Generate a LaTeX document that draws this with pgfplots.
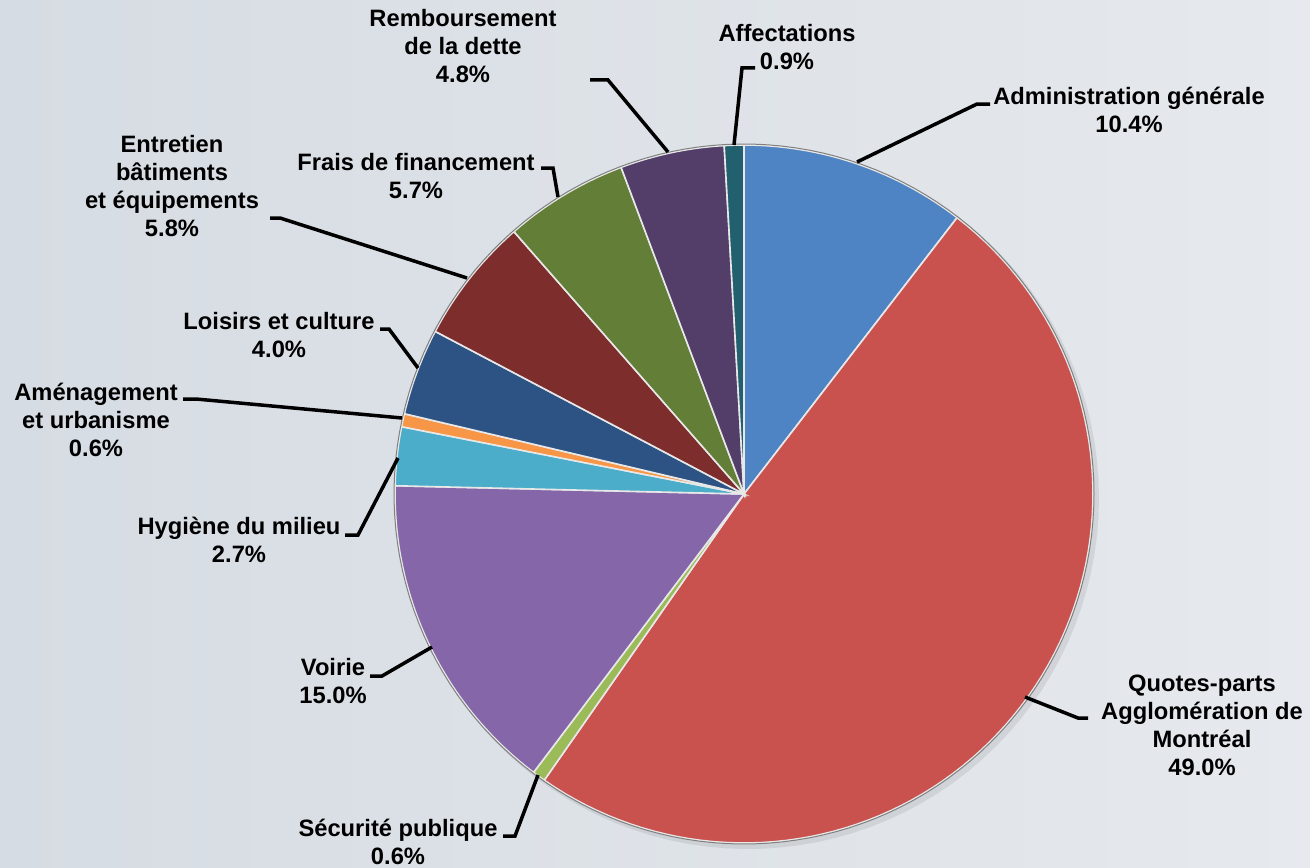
\documentclass[border=0pt]{standalone}
\usepackage{pgfplots}
\pgfplotsset{compat=1.18}
\usepackage{fontspec}
\setmainfont{Liberation Sans}

\definecolor{bgL}{HTML}{D6DCE3}
\definecolor{bgR}{HTML}{E6E9ED}
\definecolor{cAdm}{HTML}{4F84C4}
\definecolor{cQP}{HTML}{C9524F}
\definecolor{cSec}{HTML}{9BBB59}
\definecolor{cVoi}{HTML}{8567A9}
\definecolor{cHyg}{HTML}{4BADC9}
\definecolor{cAme}{HTML}{F79646}
\definecolor{cLoi}{HTML}{2D5385}
\definecolor{cEnt}{HTML}{7D2D2B}
\definecolor{cFra}{HTML}{637E37}
\definecolor{cRem}{HTML}{523E69}
\definecolor{cAff}{HTML}{22606F}

% one wedge: #1 = cumulative share before it, #2 = its share (%), #3 = colour
% pie centre (744,494), radius 349, in picture pixels; total of shares 99.5
\newcommand\slice[3]{%
  \pgfmathsetmacro\angA{90-(#1)/99.5*360}%
  \pgfmathsetmacro\angB{90-(#1+#2)/99.5*360}%
  \edef\doslice{\noexpand\addplot[fill=#3, draw=white!82!gray, line width=1.6bp,
      domain=\angB:\angA, samples=90]
    ({744+349*cos(x)}, {494-349*sin(x)}) -- (axis cs:744,494) -- cycle;}%
  \doslice}

\begin{document}
\begin{tikzpicture}[
  lab/.style={font=\bfseries\fontsize{23.8}{28}\selectfont, align=center, inner sep=0pt},
  leader/.style={black, line width=3.5bp, no marks, line join=miter}]
\begin{axis}[
  scale only axis, width=1310bp, height=867bp,
  xmin=0, xmax=1310, ymin=0, ymax=867, y dir=reverse,
  hide axis, clip=false]

\shade[left color=bgL, right color=bgR] (rel axis cs:0,0) rectangle (rel axis cs:1,1);

% soft shadow under the pie
\addplot[fill=black, fill opacity=0.08, draw=none, domain=0:360, samples=120]
  ({748+351*cos(x)}, {498-351*sin(x)});

\slice{0}{10.4}{cAdm}
\slice{10.4}{49.0}{cQP}
\slice{59.4}{0.6}{cSec}
\slice{60.0}{15.0}{cVoi}
\slice{75.0}{2.7}{cHyg}
\slice{77.7}{0.6}{cAme}
\slice{78.3}{4.0}{cLoi}
\slice{82.3}{5.8}{cEnt}
\slice{88.1}{5.7}{cFra}
\slice{93.8}{4.8}{cRem}
\slice{98.6}{0.9}{cAff}

\addplot[draw=gray, line width=1bp, domain=0:360, samples=160]
  ({744+350*cos(x)}, {494-350*sin(x)});

% leader lines
\addplot[leader] coordinates {(857,162) (977,104) (990,104)};
\addplot[leader] coordinates {(734,145) (742,68) (755,68)};
\addplot[leader] coordinates {(668,152) (608,80) (590,80)};
\addplot[leader] coordinates {(541,168) (553,168) (558,197)};
\addplot[leader] coordinates {(270,218) (280,218) (467,278)};
\addplot[leader] coordinates {(380,329) (389,329) (418,368)};
\addplot[leader] coordinates {(183,399) (196,399) (402,418)};
\addplot[leader] coordinates {(345,535) (358,535) (398,458)};
\addplot[leader] coordinates {(370,676) (382,676) (432,647)};
\addplot[leader] coordinates {(503,836) (515,836) (538,775)};
\addplot[leader] coordinates {(1025,697) (1078,718) (1088,718)};

% labels
\node[lab] at (axis cs:1129,110) {Administration générale\\10.4\%};
\node[lab] at (axis cs:787,47) {Affectations\\0.9\%};
\node[lab] at (axis cs:463,46) {Remboursement\\de la dette\\4.8\%};
\node[lab] at (axis cs:416,176) {Frais de financement\\5.7\%};
\node[lab] at (axis cs:172,186) {Entretien\\bâtiments\\et équipements\\5.8\%};
\node[lab] at (axis cs:279,335) {Loisirs et culture\\4.0\%};
\node[lab] at (axis cs:96,420) {Aménagement\\et urbanisme\\0.6\%};
\node[lab] at (axis cs:239,540) {Hygiène du milieu\\2.7\%};
\node[lab] at (axis cs:333,681) {Voirie\\15.0\%};
\node[lab] at (axis cs:398,842) {Sécurité publique\\0.6\%};
\node[lab] at (axis cs:1202,725) {Quotes-parts\\Agglomération de\\Montréal\\49.0\%};
\end{axis}
\end{tikzpicture}
\end{document}
